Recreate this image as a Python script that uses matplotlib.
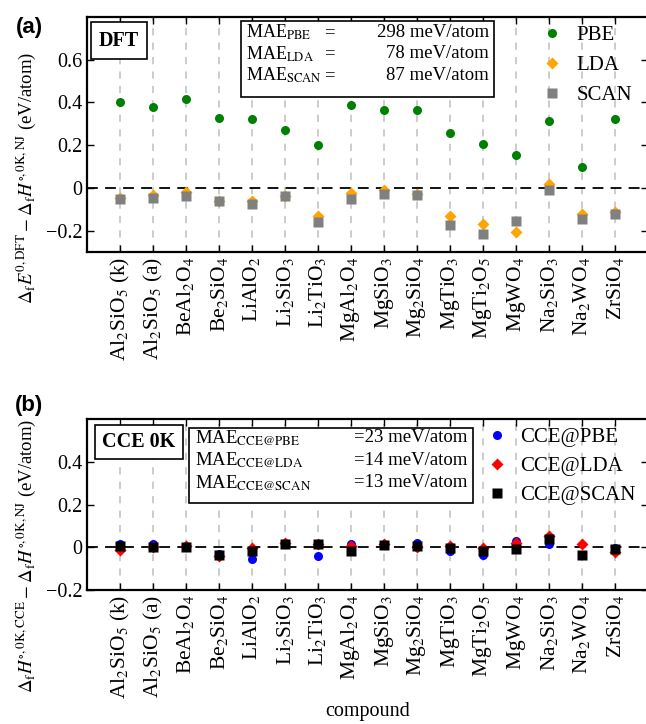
import numpy as np
import matplotlib
matplotlib.use("Agg")
import matplotlib.pyplot as plt
from matplotlib.patches import Rectangle

plt.rcParams['font.family'] = 'serif'
plt.rcParams['font.serif'] = ['Liberation Serif', 'DejaVu Serif']
plt.rcParams['mathtext.fontset'] = 'stix'
plt.rcParams['font.size'] = 14

compounds = [r'Al$_2$SiO$_5$ (k)', r'Al$_2$SiO$_5$ (a)', r'BeAl$_2$O$_4$', r'Be$_2$SiO$_4$',
             r'LiAlO$_2$', r'Li$_2$SiO$_3$', r'Li$_2$TiO$_3$', r'MgAl$_2$O$_4$',
             r'MgSiO$_3$', r'Mg$_2$SiO$_4$', r'MgTiO$_3$', r'MgTi$_2$O$_5$',
             r'MgWO$_4$', r'Na$_2$SiO$_3$', r'Na$_2$WO$_4$', r'ZrSiO$_4$']

# (a) DFT minus experiment (eV/atom)
pbe = [0.403, 0.380, 0.416, 0.325, 0.321, 0.270, 0.199, 0.390,
       0.367, 0.367, 0.259, 0.206, 0.152, 0.312, 0.097, 0.321]
lda = [-0.049, -0.031, -0.017, -0.061, -0.060, -0.036, -0.133, -0.025,
       -0.011, -0.030, -0.130, -0.169, -0.206, 0.017, -0.124, -0.111]
scan = [-0.052, -0.048, -0.038, -0.061, -0.074, -0.036, -0.159, -0.053,
        -0.030, -0.033, -0.174, -0.218, -0.155, -0.009, -0.147, -0.124]

# (b) CCE minus experiment (eV/atom)
cce_pbe = [0.013, 0.016, 0.003, -0.030, -0.055, 0.016, -0.042, 0.013,
           0.010, 0.020, -0.016, -0.036, 0.028, 0.016, -0.035, -0.005]
cce_lda = [-0.011, 0.003, 0.008, -0.042, -0.005, 0.022, 0.013, 0.006,
           0.013, 0.003, 0.005, -0.003, 0.022, 0.052, 0.013, -0.023]
cce_scan = [0.005, 0.000, 0.003, -0.034, -0.016, 0.016, 0.013, -0.016,
            0.011, 0.008, -0.005, -0.016, -0.008, 0.039, -0.036, -0.008]

mae_a_names = ['PBE', 'LDA', 'SCAN']
mae_a_vals = ['298', '78', '87']
mae_b_names = ['CCE@PBE', 'CCE@LDA', 'CCE@SCAN']
mae_b_vals = ['23', '14', '13']

x = np.arange(len(compounds))
W, H = 646, 724
AW = 561  # axes width in pixels

fig = plt.figure(figsize=(W / 100, H / 100), dpi=100)
ax1 = fig.add_axes([87 / W, 1 - 252 / H, AW / W, 235 / H])
ax2 = fig.add_axes([87 / W, 1 - 590 / H, AW / W, 171 / H])


def style_axis(ax, ylim, yticks):
    for xi in x:
        ax.axvline(xi, color='#c8c8c8', ls=(0, (4, 4)), lw=1.3, zorder=0)
    ax.axhline(0, color='black', ls=(0, (6, 4)), lw=1.3, zorder=1)
    ax.set_xlim(-1, len(compounds))
    ax.set_ylim(*ylim)
    ax.set_xticks(x)
    ax.set_xticklabels(compounds, rotation=90, fontsize=15.5)
    ax.set_yticks(yticks)
    ax.set_yticklabels(['0' if v == 0 else ('%.1f' % v).replace('-', '\u2212') for v in yticks],
                       fontsize=14.5)
    ax.tick_params(direction='in', top=True, right=True, length=5, width=1.0)
    for s in ax.spines.values():
        s.set_linewidth(1.6)


# panel (a)
style_axis(ax1, (-0.3, 0.8), [-0.2, 0, 0.2, 0.4, 0.6])
ax1.plot(x, pbe, 'o', color='green', ms=6.5, mec='none', label='PBE', zorder=3)
ax1.plot(x, lda, 'D', color='orange', ms=6.5, mec='none', label='LDA', zorder=3)
ax1.plot(x, scan, 's', color='gray', ms=6.5, mec='none', label='SCAN', zorder=3)
ax1.set_ylabel(r'$\Delta_{\rm f}E^{0,{\rm DFT}}-\Delta_{\rm f}H^{\circ,{\rm 0K,NJ}}$ (eV/atom)', fontsize=13.5)
ax1.yaxis.set_label_coords(-0.088, 0.315)
ax1.legend(loc='upper left', frameon=False, fontsize=15, labelspacing=0.5,
           handlelength=1.0, handletextpad=0.7, borderaxespad=0.0,
           bbox_to_anchor=(0.795, 1.0))
ax1.text(32 / AW, 0.9, 'DFT', transform=ax1.transAxes, fontsize=14.5, fontweight='bold',
         ha='center', va='center',
         bbox=dict(boxstyle='square,pad=0.4', fc='white', ec='black', lw=1.2))
ax1.add_patch(Rectangle((154 / AW, 0.66), 253 / AW, 0.323, transform=ax1.transAxes,
                        fc='white', ec='black', lw=1.2, zorder=4))
for i, (n, v) in enumerate(zip(mae_a_names, mae_a_vals)):
    yy = 0.934 - i * 0.091
    ax1.text(159 / AW, yy, r'MAE$_{\rm %s}$' % n, transform=ax1.transAxes,
             va='center', ha='left', fontsize=13, zorder=5)
    ax1.text(237 / AW, yy, '=', transform=ax1.transAxes, va='center', ha='left',
             fontsize=13.5, zorder=5)
    ax1.text(402 / AW, yy, v + ' meV/atom', transform=ax1.transAxes, va='center',
             ha='right', fontsize=13.5, zorder=5)

# panel (b)
style_axis(ax2, (-0.2, 0.6), [-0.2, 0, 0.2, 0.4])
ax2.plot(x, cce_pbe, 'o', color='blue', ms=6.5, mec='none', label='CCE@PBE', zorder=3)
ax2.plot(x, cce_lda, 'D', color='red', ms=6.5, mec='none', label='CCE@LDA', zorder=3)
ax2.plot(x, cce_scan, 's', color='black', ms=6.5, mec='none', label='CCE@SCAN', zorder=3)
ax2.set_ylabel(r'$\Delta_{\rm f}H^{\circ,{\rm 0K,CCE}}-\Delta_{\rm f}H^{\circ,{\rm 0K,NJ}}$ (eV/atom)', fontsize=13.5)
ax2.yaxis.set_label_coords(-0.088, 0.2)
ax2.set_xlabel('compound', fontsize=14.5)
ax2.xaxis.set_label_coords(0.5, -0.655)
ax2.legend(loc='upper left', frameon=False, fontsize=15, labelspacing=0.45,
           handlelength=1.0, handletextpad=0.6, borderaxespad=0.0,
           bbox_to_anchor=(0.698, 1.0))
ax2.text(52 / AW, 0.865, 'CCE 0K', transform=ax2.transAxes, fontsize=14.5, fontweight='bold',
         ha='center', va='center',
         bbox=dict(boxstyle='square,pad=0.35', fc='white', ec='black', lw=1.2))
ax2.add_patch(Rectangle((102 / AW, 0.509), 284 / AW, 0.439, transform=ax2.transAxes,
                        fc='white', ec='black', lw=1.2, zorder=4))
for i, (n, v) in enumerate(zip(mae_b_names, mae_b_vals)):
    yy = 0.889 - i * 0.131
    ax2.text(108 / AW, yy, r'MAE$_{\rm %s}$' % n, transform=ax2.transAxes,
             va='center', ha='left', fontsize=13.5, zorder=5)
    ax2.text(380 / AW, yy, '=' + v + ' meV/atom', transform=ax2.transAxes, va='center',
             ha='right', fontsize=13.5, zorder=5)

fig.text(29 / W, 1 - 27 / H, '(a)', fontsize=16, fontweight='bold', family='Liberation Sans',
         va='center', ha='center')
fig.text(29 / W, 1 - 405 / H, '(b)', fontsize=16, fontweight='bold', family='Liberation Sans',
         va='center', ha='center')

fig.savefig('out.png', dpi=100)
